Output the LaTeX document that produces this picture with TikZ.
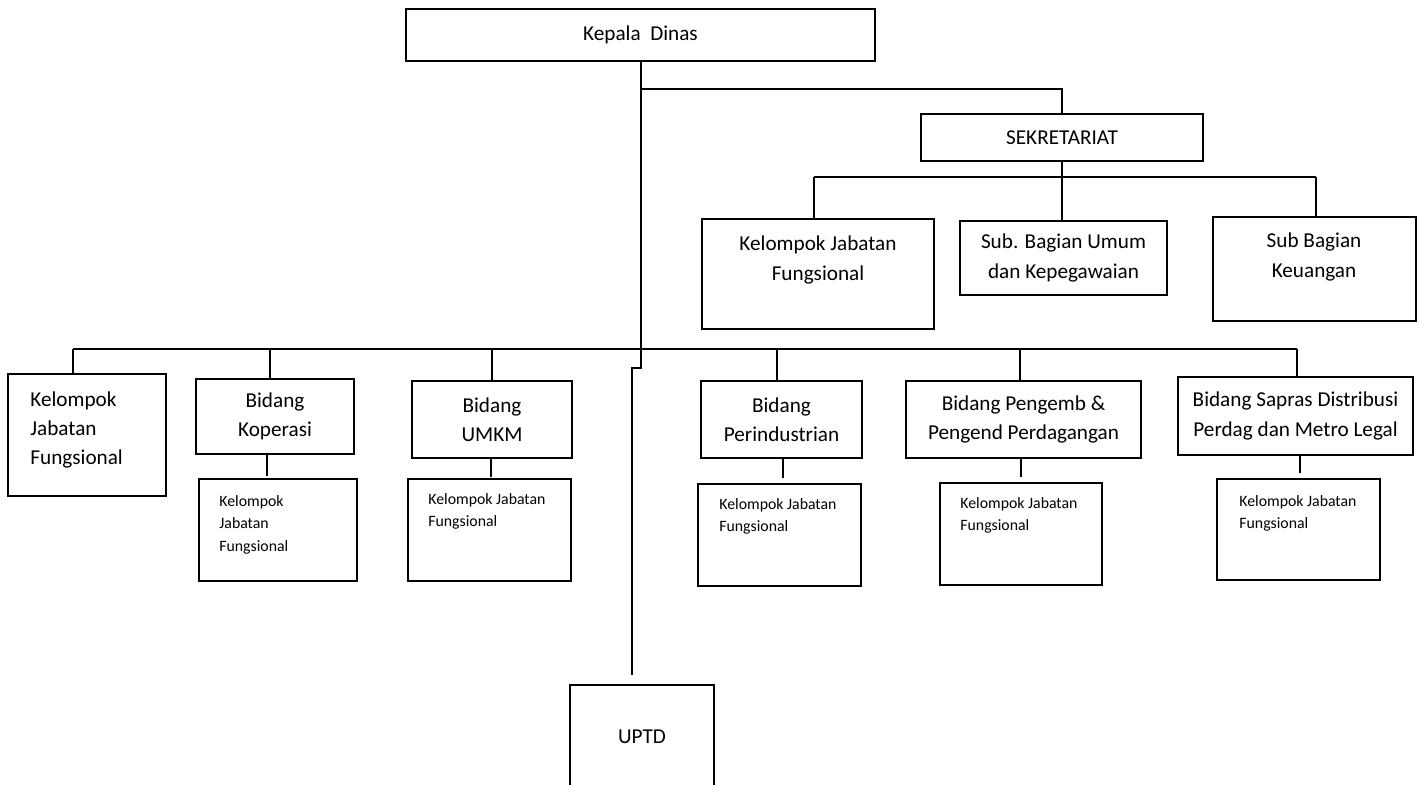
\documentclass[tikz,border=0pt]{standalone}
\usepackage{fontspec}
\setmainfont{Carlito}
\usetikzlibrary{calc}
\newcommand{\bigtxt}{\fontsize{10.6}{14.6}\selectfont}
\newcommand{\smalltxt}{\fontsize{7.9}{11.3}\selectfont}
\tikzset{
  txt/.style={inner sep=0pt, align=center, font=\bigtxt},
  box/.style={txt, draw, line width=0.7pt},
  note/.style={inner sep=0pt, align=left, anchor=north west, font=\smalltxt},
  link/.style={line width=0.9pt},
}
\newcommand{\BOX}[6]{
  \node[box, minimum width={(#4-#2)*0.5pt}, minimum height={(#5-#3)*0.5pt}]
    (#1) at ({(#2+#4)/2},{(#3+#5)/2}) {#6};
}

\begin{document}
\begin{tikzpicture}[x=0.5pt, y=-0.5pt]
  \useasboundingbox (0,0) rectangle (1420,785);
  \clip (0,0) rectangle (1420,785);

  \BOX{kadis}{406}{9}{875}{61}{Kepala\ \ Dinas}
  \BOX{sek}{921}{114}{1203}{161}{SEKRETARIAT}
  \BOX{sekjf}{702}{219}{934}{329}{}
  \node[txt] (sekjf-t) at (818,260) {Kelompok Jabatan\\Fungsional};
  \BOX{sekum}{960}{221}{1167}{295}{Sub. Bagian Umum\\dan Kepegawaian}
  \BOX{sekkeu}{1213}{217}{1416}{321}{}
  \node[txt] (sekkeu-t) at (1314,257) {Sub Bagian\\Keuangan};

  \BOX{kjf}{8}{374}{166}{496}{}
  \node[txt, align=left, anchor=north west] (kjf-t) at (30,391) {Kelompok\\Jabatan\\Fungsional};
  \BOX{kop}{196}{379}{354}{454}{Bidang\\Koperasi}
  \BOX{umkm}{412}{381}{572}{458}{Bidang\\UMKM}
  \BOX{ind}{701}{381}{862}{458}{Bidang\\Perindustrian}
  \BOX{dag}{906}{381}{1141}{458}{Bidang Pengemb \&\\Pengend Perdagangan}
  \BOX{sap}{1178}{377}{1413}{455}{Bidang Sapras Distribusi\\Perdag dan Metro Legal}

  \BOX{kopjf}{199}{479}{357}{581}{}
  \node[note] (kopjf-t) at (219,495) {Kelompok\\Jabatan\\Fungsional};
  \BOX{umkmjf}{408}{479}{571}{581}{}
  \node[note] (umkmjf-t) at (428,493) {Kelompok Jabatan\\Fungsional};
  \BOX{indjf}{698}{484}{861}{586}{}
  \node[note] (indjf-t) at (719,498) {Kelompok Jabatan\\Fungsional};
  \BOX{dagjf}{940}{483}{1102}{585}{}
  \node[note] (dagjf-t) at (960,497) {Kelompok Jabatan\\Fungsional};
  \BOX{sapjf}{1217}{479}{1380}{580}{}
  \node[note] (sapjf-t) at (1239,495) {Kelompok Jabatan\\Fungsional};

  \BOX{uptd}{570}{685}{714}{789}{UPTD}

  \coordinate (jsek) at (641,89);
  \coordinate (bend) at (641,368);
  \coordinate (uptd-end) at (632,675);
  \coordinate (sekbus-l) at (814,177);
  \coordinate (sekbus-r) at (1316,177);
  \coordinate (bus-l) at (73,349);
  \coordinate (bus-r) at (1297,349);

  \draw[link] (kadis.south -| jsek) -- (bend) -- (bend -| uptd-end) -- (uptd-end);
  \draw[link] (jsek) -- (jsek -| sek.north) -- (sek.north);

  \draw[link] (sek.south) -- (sek.south |- sekbus-l);
  \draw[link] (sekbus-l) -- (sekbus-r);
  \foreach \n/\x in {sekjf/814, sekum/1062, sekkeu/1316} {
    \coordinate (c) at (\x,177);
    \draw[link] (c) -- (c |- \n.north);
  }

  \draw[link] (bus-l) -- (bus-r);
  \foreach \n/\x in {kjf/73, kop/270, umkm/492, ind/777, dag/1020, sap/1297} {
    \coordinate (c) at (\x,349);
    \draw[link] (c) -- (c |- \n.north);
  }

  \foreach \n/\x/\l in {kop/267/21, umkm/491/18, ind/783/19, dag/1021/18, sap/1300/17} {
    \coordinate (s) at (\x,0);
    \draw[link] (s |- \n.south) -- ++(0,\l);
  }
\end{tikzpicture}
\end{document}
